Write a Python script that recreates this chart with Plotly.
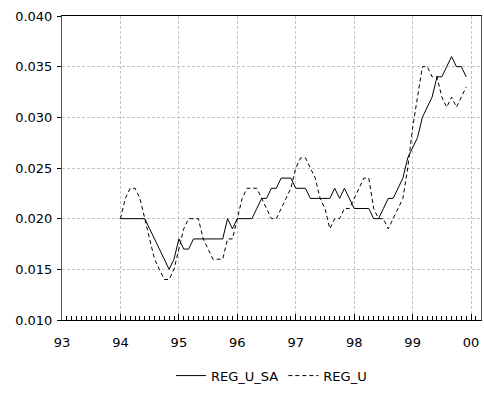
import plotly.graph_objects as go

# monthly observations Jan 1994 .. Dec 1999
start_year = 1994
reg_u_sa = [
    0.020, 0.020, 0.020, 0.020, 0.020, 0.020, 0.019, 0.018, 0.017, 0.016, 0.015, 0.016,  # 94
    0.018, 0.017, 0.017, 0.018, 0.018, 0.018, 0.018, 0.018, 0.018, 0.018, 0.020, 0.019,  # 95
    0.020, 0.020, 0.020, 0.020, 0.021, 0.022, 0.022, 0.023, 0.023, 0.024, 0.024, 0.024,  # 96
    0.023, 0.023, 0.023, 0.022, 0.022, 0.022, 0.022, 0.022, 0.023, 0.022, 0.023, 0.022,  # 97
    0.021, 0.021, 0.021, 0.021, 0.020, 0.020, 0.021, 0.022, 0.022, 0.023, 0.024, 0.026,  # 98
    0.027, 0.028, 0.030, 0.031, 0.032, 0.034, 0.034, 0.035, 0.036, 0.035, 0.035, 0.034,  # 99
]
reg_u = [
    0.020, 0.022, 0.023, 0.023, 0.022, 0.020, 0.018, 0.016, 0.015, 0.014, 0.014, 0.015,  # 94
    0.017, 0.019, 0.020, 0.020, 0.020, 0.018, 0.017, 0.016, 0.016, 0.016, 0.018, 0.018,  # 95
    0.020, 0.022, 0.023, 0.023, 0.023, 0.022, 0.021, 0.020, 0.020, 0.021, 0.022, 0.023,  # 96
    0.025, 0.026, 0.026, 0.025, 0.024, 0.022, 0.021, 0.019, 0.020, 0.020, 0.021, 0.021,  # 97
    0.022, 0.023, 0.024, 0.024, 0.021, 0.020, 0.020, 0.019, 0.020, 0.021, 0.022, 0.025,  # 98
    0.029, 0.032, 0.035, 0.035, 0.034, 0.034, 0.032, 0.031, 0.032, 0.031, 0.032, 0.033,  # 99
]
year_ticks = [1993, 1994, 1995, 1996, 1997, 1998, 1999, 2000]
year_labels = ["93", "94", "95", "96", "97", "98", "99", "00"]
y_ticks = [0.010, 0.015, 0.020, 0.025, 0.030, 0.035, 0.040]

x = [start_year + i / 12 for i in range(len(reg_u_sa))]

FONT = "DejaVu Sans"
GRID = "#c4c4c4"

fig = go.Figure()
fig.add_trace(go.Scatter(x=x, y=reg_u_sa, name="REG_U_SA", mode="lines",
                         line=dict(color="black", width=1)))
fig.add_trace(go.Scatter(x=x, y=reg_u, name="REG_U", mode="lines",
                         line=dict(color="black", width=1, dash="4px,3px")))

fig.update_layout(
    width=484, height=394,
    margin=dict(l=62, r=3, t=16, b=72),
    paper_bgcolor="white", plot_bgcolor="white",
    font=dict(family=FONT, size=13, color="black"),
    showlegend=True,
    legend=dict(orientation="h", x=0.5, xanchor="center", y=-0.183, yanchor="middle",
                font=dict(family=FONT, size=13), itemwidth=30,
                bgcolor="rgba(0,0,0,0)"),
    xaxis=dict(
        range=[1993, 2000.17], tickvals=year_ticks, ticktext=year_labels,
        ticks="inside", ticklen=6, tickcolor="black",
        showline=True, linecolor="black", linewidth=1, mirror=True,
        showgrid=True, gridcolor=GRID, griddash="3px,2px", gridwidth=1,
        zeroline=False, ticklabelstandoff=10, ticklabeloverflow="allow",
        automargin=False,
        minor=dict(dtick=1/12, tick0=1993, ticks="inside", ticklen=4,
                   tickcolor="black", showgrid=False),
    ),
    yaxis=dict(
        range=[0.010, 0.040], tickvals=y_ticks, tickformat=".3f",
        ticks="outside", ticklen=4, tickcolor="black",
        showline=True, linecolor="#555555", linewidth=1, mirror=True,
        showgrid=True, gridcolor=GRID, griddash="3px,2px", gridwidth=1,
        zeroline=False, ticklabelstandoff=2, automargin=False,
    ),
)

fig.write_html(
    "out.html",
    config={"displayModeBar": False},
    post_script="document.body.style.margin='0';document.body.style.padding='0';",
)
